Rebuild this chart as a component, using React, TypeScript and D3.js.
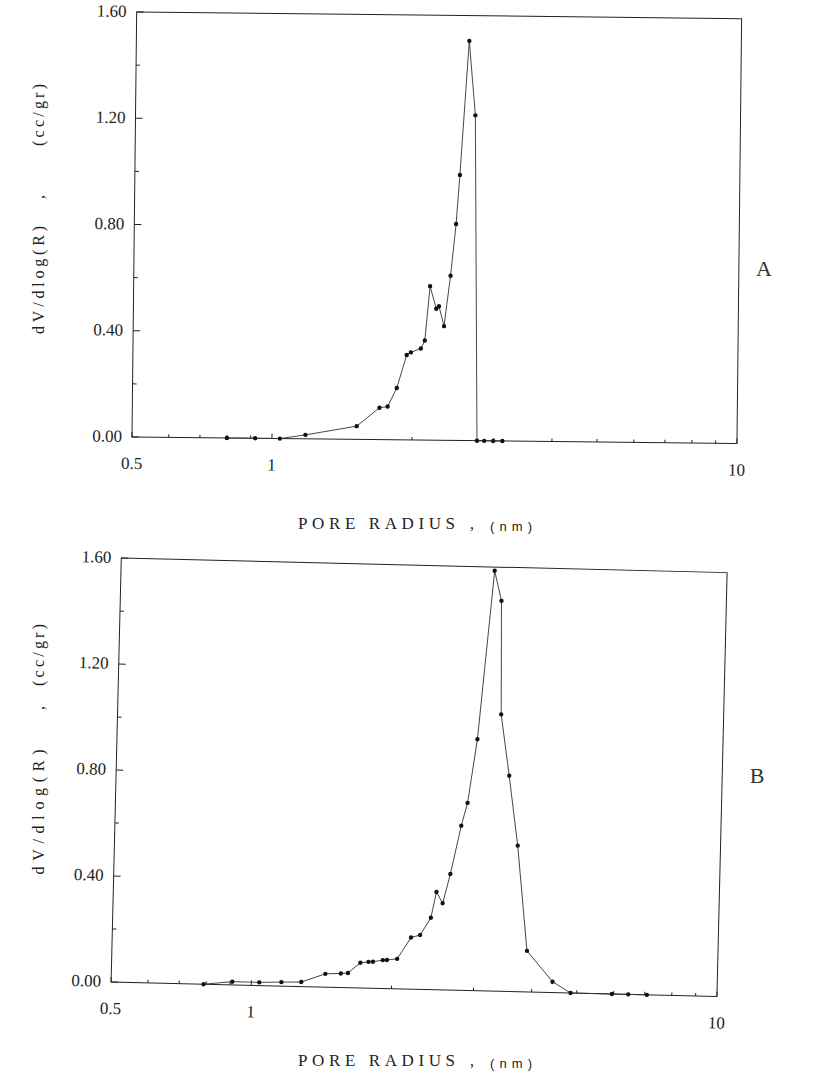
import React from "react";
import * as d3 from "d3";

// Panel A (top): pore radius (nm) and dV/dlog(R) (cc/gr)
const radiusA = [0.80, 0.92, 1.04, 1.18, 1.52, 1.70, 1.77, 1.85, 1.94, 1.98, 2.08, 2.12, 2.17, 2.24, 2.27, 2.33, 2.40, 2.46, 2.50, 2.60, 2.69, 2.76, 2.86, 2.99, 3.13];
const dvA = [0, 0, 0, 0.015, 0.05, 0.12, 0.125, 0.195, 0.32, 0.33, 0.345, 0.375, 0.58, 0.495, 0.505, 0.43, 0.62, 0.815, 1.0, 1.505, 1.225, 0, 0, 0, 0];

// Panel B (bottom)
const radiusB = [0.79, 0.91, 1.04, 1.16, 1.28, 1.44, 1.555, 1.61, 1.71, 1.78, 1.82, 1.91, 1.95, 2.05, 2.19, 2.29, 2.41, 2.47, 2.55, 2.64, 2.77, 2.85, 2.97, 3.17, 3.29, 3.33, 3.49, 3.67, 3.89, 4.43, 4.85, 5.95, 6.45, 7.07];
const dvB = [0, 0.012, 0.012, 0.015, 0.017, 0.05, 0.053, 0.055, 0.095, 0.099, 0.1, 0.107, 0.108, 0.113, 0.195, 0.205, 0.271, 0.369, 0.327, 0.438, 0.621, 0.708, 0.949, 1.586, 1.473, 1.045, 0.814, 0.551, 0.155, 0.041, 0, 0, 0, 0];

const yTicks = [0, 0.4, 0.8, 1.2, 1.6];
const yTickLabels = ["0.00", "0.40", "0.80", "1.20", "1.60"];
const yMinorTicks = [0.2, 0.6, 1.0, 1.4];
const xTicks = [0.5, 1, 10];
const xTickLabels = ["0.5", "1", "10"];
const xMinorTicks = [0.6, 0.7, 0.8, 0.9, 2, 3, 4, 5, 6, 7, 8, 9];
const panelLabels = ["A", "B"];
const xTitle = "PORE RADIUS";
const xUnit = "(nm)";
const yTitle = "dV/dlog(R)";
const yUnit = "(cc/gr)";

const SERIF = "Liberation Serif, Times New Roman, serif";
const SANS = "Liberation Sans, Arial, sans-serif";
const INK = "#222";

type PanelProps = {
  radius: number[];
  values: number[];
  x0: number; x1: number; y0: number; y1: number;
  angle: number; cx: number; cy: number;
};

function Panel({ radius, values, x0, x1, y0, y1, angle, cx, cy }: PanelProps) {
  const x = d3.scaleLog().domain([0.5, 10]).range([x0, x1]);
  const y = d3.scaleLinear().domain([0, 1.6]).range([y1, y0]);
  const pts: [number, number][] = radius.map((r, i) => [x(r), y(values[i])]);
  const line = d3.line()(pts) || "";
  return (
    <g transform={`rotate(${angle} ${cx} ${cy})`}>
      <rect x={x0} y={y0} width={x1 - x0} height={y1 - y0} fill="none" stroke={INK} strokeWidth={1} />
      {yTicks.map((t, i) => (
        <g key={"yt" + i}>
          <line x1={x0} x2={x0 + 7} y1={y(t)} y2={y(t)} stroke={INK} strokeWidth={1} />
          <text x={x0 - 10} y={y(t) + 5} textAnchor="end" fontFamily={SERIF} fontSize={17} fill={INK}>
            {yTickLabels[i]}
          </text>
        </g>
      ))}
      {yMinorTicks.map((t, i) => (
        <line key={"ym" + i} x1={x0} x2={x0 + 4} y1={y(t)} y2={y(t)} stroke={INK} strokeWidth={1} />
      ))}
      {xTicks.map((t, i) => (
        <g key={"xt" + i}>
          <line x1={x(t)} x2={x(t)} y1={y1} y2={y1 - 5} stroke={INK} strokeWidth={1} />
          <text x={x(t)} y={y1 + 32} textAnchor="middle" fontFamily={SERIF} fontSize={17} fill={INK}>
            {xTickLabels[i]}
          </text>
        </g>
      ))}
      {xMinorTicks.map((t, i) => (
        <line key={"xm" + i} x1={x(t)} x2={x(t)} y1={y1} y2={y1 - 3} stroke={INK} strokeWidth={1} />
      ))}
      <path d={line} fill="none" stroke="#333" strokeWidth={0.9} />
      {pts.map((p, i) => (
        <circle key={"p" + i} cx={p[0]} cy={p[1]} r={2.2} fill="#111" />
      ))}
    </g>
  );
}

function YTitle({ cxText, unitCenter, commaY, titleCenter, titleLen }: { cxText: number; unitCenter: number; commaY: number; titleCenter: number; titleLen: number }) {
  return (
    <g fontFamily={SERIF} fill={INK} fontSize={16}>
      <text transform={`translate(${cxText},${unitCenter}) rotate(-90)`} textAnchor="middle" textLength={62} lengthAdjust="spacing">{yUnit}</text>
      <text transform={`translate(${cxText},${commaY}) rotate(-90)`} textAnchor="middle">,</text>
      <text transform={`translate(${cxText},${titleCenter}) rotate(-90)`} textAnchor="middle" textLength={titleLen} lengthAdjust="spacing">{yTitle}</text>
    </g>
  );
}

function XTitle({ baseY }: { baseY: number }) {
  return (
    <g fill={INK}>
      <text x={298} y={baseY} fontFamily={SERIF} fontSize={17} textLength={157} lengthAdjust="spacing">{xTitle}</text>
      <text x={470} y={baseY} fontFamily={SERIF} fontSize={16}>,</text>
      <text x={490} y={baseY + 2} fontFamily={SANS} fontSize={13} textLength={42} lengthAdjust="spacing">{xUnit}</text>
    </g>
  );
}

export default function App() {
  return (
    <div style={{ position: "absolute", left: 0, top: 0 }}>
      <svg width={840} height={1085} viewBox="0 0 840 1085" style={{ display: "block", background: "#fff" }}>
        <rect x={0} y={0} width={840} height={1085} fill="#fff" />
        <Panel radius={radiusA} values={dvA} x0={134.3} x1={739.3} y0={15.3} y1={440.3} angle={0.63} cx={436.8} cy={227.8} />
        <Panel radius={radiusB} values={dvB} x0={116.1} x1={722.1} y0={565.3} y1={989.3} angle={1.375} cx={419.1} cy={777.3} />
        <YTitle cxText={44} unitCenter={115} commaY={197} titleCenter={280} titleLen={108} />
        <YTitle cxText={44} unitCenter={655} commaY={708} titleCenter={812} titleLen={125} />
        <XTitle baseY={529} />
        <XTitle baseY={1066} />
        <text x={764} y={276} textAnchor="middle" fontFamily={SERIF} fontSize={22} fill="#333">{panelLabels[0]}</text>
        <text x={757} y={783} textAnchor="middle" fontFamily={SERIF} fontSize={22} fill="#333">{panelLabels[1]}</text>
      </svg>
    </div>
  );
}
